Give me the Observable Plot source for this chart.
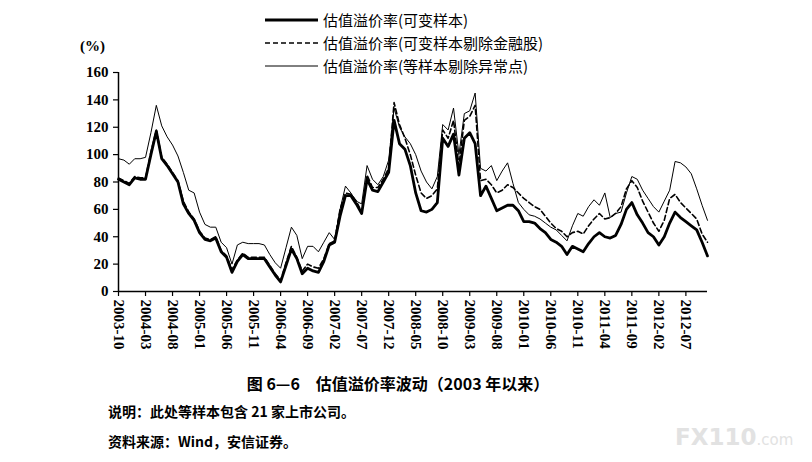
<!DOCTYPE html>
<html>
<head>
<meta charset="utf-8">
<script src="https://cdn.jsdelivr.net/npm/d3@7"></script>
<script src="https://cdn.jsdelivr.net/npm/@observablehq/plot@0.6"></script>
<style>
  html, body { margin: 0; padding: 0; background: #fff; }
  #page { position: relative; width: 812px; height: 462px; overflow: hidden; background: #fff; }
  #chart { position: absolute; left: 0; top: 0; }
  #legend { position: absolute; left: 265px; top: 8px; font-family: "Noto Sans CJK SC", sans-serif; font-size: 15px; color: #000; }
  .lrow { display: flex; align-items: center; height: 23px; }
  .lrow svg { margin-right: 4px; }
  #unit { position: absolute; left: 80px; top: 38px; font-family: "Liberation Serif", serif; font-weight: bold; font-size: 15px; }
  #title { position: absolute; left: 0; width: 796px; top: 371px; text-align: center; font-family: "Noto Sans CJK SC", sans-serif; font-weight: 700; font-size: 16px; }
  .note { position: absolute; left: 108px; font-family: "Noto Sans CJK SC", sans-serif; font-weight: 700; font-size: 14px; }
  #wm { position: absolute; left: 675px; top: 424px; color: #e2e2e2; font-family: "DejaVu Sans", sans-serif; white-space: nowrap; }
</style>
</head>
<body>
<div id="page">
  <div id="chart"></div>
  <div id="unit"></div>
  <div id="legend"></div>
  <div id="title"></div>
  <div class="note" id="note1" style="top:401px"></div>
  <div class="note" id="note2" style="top:431px"></div>
  <div id="wm"><span style="font-size:23px;font-weight:bold">FX110</span><span style="font-size:15px">.com</span></div>
</div>
<script>
// ---- data (monthly, starting 2003-10) ----
const startYear = 2003;
const startMonth = 10;

const tickLabels = ["2003-10","2004-03","2004-08","2005-01","2005-06","2005-11","2006-04","2006-09",
  "2007-02","2007-07","2007-12","2008-05","2008-10","2009-03","2009-08","2010-01","2010-06",
  "2010-11","2011-04","2011-09","2012-02","2012-07"];

const yTicks = [0, 20, 40, 60, 80, 100, 120, 140, 160];

const seriesNames = ["估值溢价率(可变样本)", "估值溢价率(可变样本剔除金融股)", "估值溢价率(等样本剔除异常点)"];

// 估值溢价率(可变样本)
const variableSample = [
  82, 80, 78, 83, 82, 82, 100, 117, 97, 92,
  86, 80, 64, 57, 52, 43, 38, 37, 39, 29,
  25, 14, 22, 27, 24, 24, 24, 24, 18, 12,
  7, 19, 31, 24, 13, 17, 15, 14, 22, 34,
  36, 55, 70, 70, 64, 57, 82, 74, 73, 80,
  87, 125, 108, 104, 92, 72, 59, 58, 60, 65,
  112, 106, 115, 85, 112, 116, 108, 70, 77, 68,
  59, 61, 63, 63, 59, 51, 51, 50, 46, 43,
  38, 36, 33, 27, 33, 31, 29, 35, 40, 43,
  40, 39, 41, 49, 60, 65, 56, 50, 43, 40,
  34, 40, 50, 58, 54, 51, 48, 45, 36, 26
];

// 估值溢价率(可变样本剔除金融股)
const exFinancials = [
  83, 81, 79, 84, 83, 83, 102, 118, 98, 93,
  87, 81, 66, 58, 53, 44, 39, 38, 40, 30,
  26, 16, 23, 28, 25, 25, 25, 25, 19, 13,
  8, 21, 33, 25, 15, 20, 18, 17, 24, 35,
  37, 60, 72, 71, 66, 58, 85, 76, 76, 82,
  90, 138, 122, 112, 100, 85, 72, 68, 70, 75,
  118, 112, 125, 92, 125, 128, 136, 81, 82, 78,
  72, 74, 78, 76, 72, 68, 65, 62, 60, 55,
  50, 46, 44, 40, 43, 44, 42, 48, 53, 57,
  53, 54, 57, 62, 75, 81, 76, 66, 58, 50,
  44, 52, 68, 71, 65, 61, 57, 53, 42, 36
];

// 估值溢价率(等样本剔除异常点)
const equalSample = [
  97, 96, 93, 97, 97, 98, 116, 136, 121, 113,
  107, 99, 87, 74, 72, 58, 49, 47, 47, 36,
  32, 20, 34, 36, 35, 35, 35, 34, 27, 21,
  17, 32, 47, 41, 24, 33, 33, 29, 36, 43,
  38, 60, 77, 72, 66, 64, 92, 82, 78, 84,
  96, 134, 120, 113, 108, 100, 88, 80, 75, 84,
  122, 118, 134, 100, 130, 132, 145, 90, 88, 92,
  81, 88, 94, 79, 65, 60, 56, 55, 53, 50,
  47, 45, 41, 37, 48, 57, 55, 62, 67, 63,
  72, 54, 57, 58, 72, 84, 82, 74, 68, 62,
  58, 66, 74, 95, 94, 91, 86, 75, 63, 52
];

const titleText = "图 6—6\u3000估值溢价率波动（2003 年以来）";
const note1Text = "说明：此处等样本包含 21 家上市公司。";
const note2Text = "资料来源：Wind，安信证券。";
const unitText = "(%)";

// ---- build tables ----
function monthLabel(i) {
  const t = (startMonth - 1) + i;
  const y = startYear + Math.floor(t / 12);
  const m = (t % 12) + 1;
  return `${y}-${String(m).padStart(2, "0")}`;
}
const labelToIndex = new Map(variableSample.map((_, i) => [monthLabel(i), i]));
const tickIdx = tickLabels.map(l => labelToIndex.get(l));

const table = (arr) => arr.map((v, i) => ({i, v}));
const dA = table(variableSample);
const dB = table(exFinancials);
const dC = table(equalSample);

const chart = Plot.plot({
  width: 812,
  height: 375,
  marginLeft: 118,
  marginRight: 105,
  marginTop: 72,
  marginBottom: 84,
  style: {fontFamily: "'Liberation Serif', serif", fontSize: "15px", fontWeight: "bold", color: "#000", background: "transparent"},
  x: {type: "linear", domain: [0, variableSample.length - 1]},
  y: {domain: [0, 160]},
  marks: [
    Plot.axisY({ticks: yTicks, tickSize: 5, tickPadding: 5, tickFormat: d => String(d), label: null, stroke: "#000", strokeWidth: 1.2}),
    Plot.axisX({ticks: tickIdx, tickSize: 5, tickPadding: 3, tickRotate: 90, tickFormat: d => tickLabels[tickIdx.indexOf(d)], label: null, stroke: "#000", strokeWidth: 1.2}),
    Plot.ruleY([0], {stroke: "#000", strokeWidth: 1.5}),
    Plot.ruleX([0], {stroke: "#000", strokeWidth: 1.5}),
    Plot.line(dC, {x: "i", y: "v", stroke: "#000", strokeWidth: 1}),
    Plot.line(dB, {x: "i", y: "v", stroke: "#000", strokeWidth: 1.6, strokeDasharray: "5,3"}),
    Plot.line(dA, {x: "i", y: "v", stroke: "#000", strokeWidth: 2.8})
  ]
});
document.getElementById("chart").appendChild(chart);

// ---- legend ----
const legendStyles = [
  {w: 2.8, dash: null},
  {w: 1.6, dash: "5,3"},
  {w: 1, dash: null}
];
const legend = document.getElementById("legend");
seriesNames.forEach((name, k) => {
  const row = document.createElement("div");
  row.className = "lrow";
  const st = legendStyles[k];
  row.innerHTML = `<svg width="54" height="10"><line x1="0" x2="53" y1="5" y2="5" stroke="#000" stroke-width="${st.w}" ${st.dash ? `stroke-dasharray="${st.dash}"` : ""}/></svg><span>${name}</span>`;
  legend.appendChild(row);
});

document.getElementById("unit").textContent = unitText;
document.getElementById("title").textContent = titleText;
document.getElementById("note1").textContent = note1Text;
document.getElementById("note2").textContent = note2Text;
</script>
</body>
</html>
